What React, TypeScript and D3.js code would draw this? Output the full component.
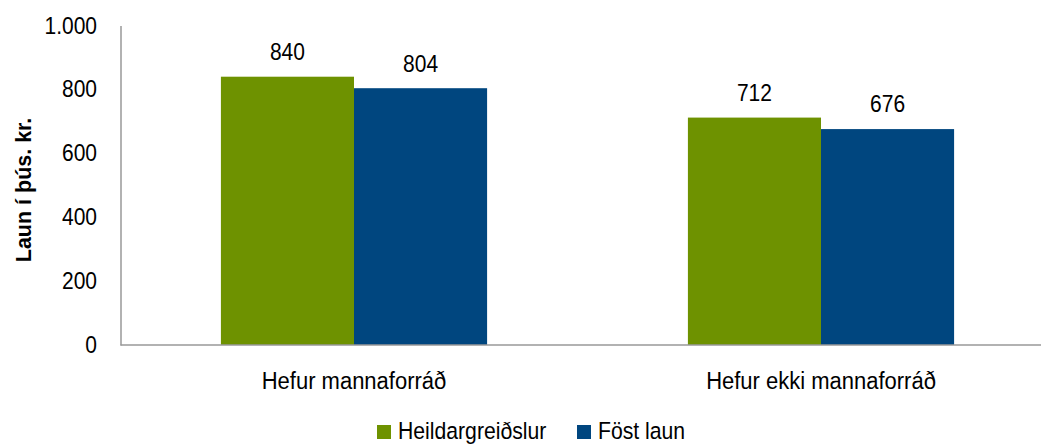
import React from 'react';
import * as d3 from 'd3';

const categories = ['Hefur mannaforráð', 'Hefur ekki mannaforráð'];
const seriesNames = ['Heildargreiðslur', 'Föst laun'];
const heildargreidslur = [840, 712];
const fostLaun = [804, 676];
const yTicks = [0, 200, 400, 600, 800, 1000];

const colors = ['#6e9200', '#00467f'];
const width = 1041;
const height = 445;

const isLocale = d3.formatLocale({ decimal: ',', thousands: '.', grouping: [3], currency: ['', ' kr.'] });
const fmt = isLocale.format(',');

const App: React.FC = () => {
  const series = [heildargreidslur, fostLaun];

  const x0 = d3.scaleBand<string>()
    .domain(categories)
    .range([120.5, 1054.5])
    .paddingInner(0.43)
    .paddingOuter(0.215);

  const x1 = d3.scaleBand<string>()
    .domain(seriesNames)
    .range([0, x0.bandwidth()]);

  const y = d3.scaleLinear().domain([0, 1000]).range([345, 25.6]);

  const font = 'Liberation Sans, Arial, sans-serif';

  return (
    <svg width={width} height={height} style={{ position: 'absolute', left: 0, top: 0 }} fontFamily={font}>
      <rect width={width} height={height} fill="#fff" />
      {/* bars */}
      {categories.map((cat, ci) => (
        <g key={cat} transform={`translate(${x0(cat)},0)`}>
          {seriesNames.map((s, si) => {
            const v = series[si][ci];
            const bx = x1(s) as number;
            return (
              <g key={s}>
                <rect x={bx} y={y(v)} width={x1.bandwidth()} height={y(0) - y(v)} fill={colors[si]} />
                <text transform={`translate(${bx + x1.bandwidth() / 2},${y(v) - 16.7}) scale(1,1.1)`} textAnchor="middle" fontSize={21} fill="#000">
                  {fmt(v)}
                </text>
              </g>
            );
          })}
        </g>
      ))}
      {/* axes */}
      <line x1={121} x2={121} y1={26} y2={345.5} stroke="#999" strokeWidth={1.5} />
      <line x1={120.5} x2={width} y1={345} y2={345} stroke="#999" strokeWidth={1.5} />
      {yTicks.map(t => (
        <text key={t} transform={`translate(97,${y(t) + 8}) scale(1,1.18)`} textAnchor="end" fontSize={21} fill="#000">
          {fmt(t)}
        </text>
      ))}
      {categories.map(cat => (
        <text key={cat} transform={`translate(${(x0(cat) as number) + x0.bandwidth() / 2},389) scale(1,1.1)`} textAnchor="middle" fontSize={22} fill="#000">
          {cat}
        </text>
      ))}
      <text transform="translate(31,190) rotate(-90) scale(1,1.05)" textAnchor="middle" fontSize={21.5} fontWeight="bold" fill="#000">
        Laun í þús. kr.
      </text>
      {/* legend */}
      {seriesNames.map((s, i) => {
        const lx = i === 0 ? 377 : 577;
        return (
          <g key={s}>
            <rect x={lx} y={425} width={14} height={14} fill={colors[i]} />
            <text transform={`translate(${lx + 21},439) scale(1,1.1)`} fontSize={21.2} fill="#000">{s}</text>
          </g>
        );
      })}
    </svg>
  );
};

export default App;
